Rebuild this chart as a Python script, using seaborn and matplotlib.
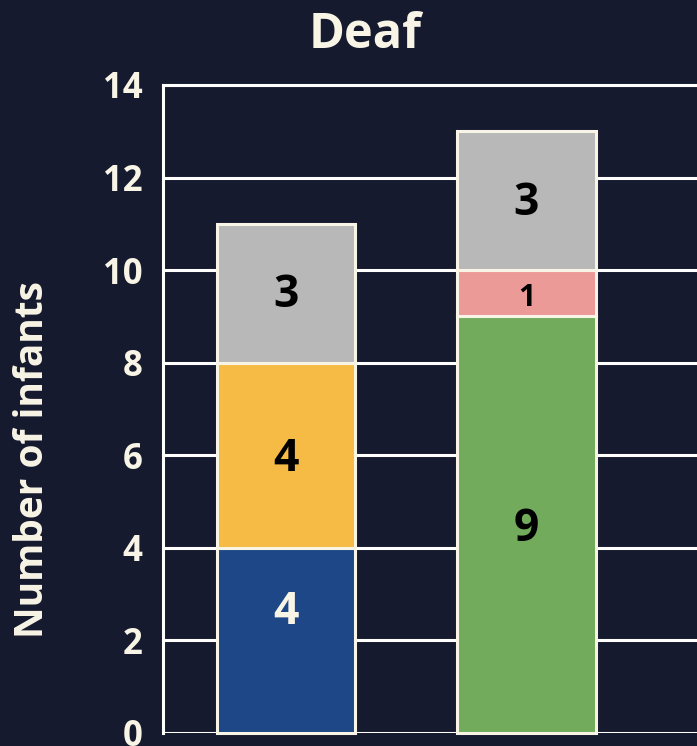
import matplotlib
matplotlib.use("Agg")
import matplotlib.pyplot as plt
import seaborn as sns
import pandas as pd

# Data
categories = ["Group 1", "Group 2"]
seg_bottom_vals = [4, 9]      # blue / green
seg_mid_vals = [4, 1]         # yellow / pink
seg_top_vals = [3, 3]         # gray
bottom_colors = ["#1e4788", "#72ab5b"]
mid_colors = ["#f6bb45", "#eb9a98"]
top_colors = ["#b8b8b8", "#b8b8b8"]
bottom_text = ["#f8f4e6", "black"]
title = "Deaf"
ylabel = "Number of infants"
yticks = [0, 2, 4, 6, 8, 10, 12, 14]

sns.set_theme(style="white")
plt.rcParams['font.family'] = ['Open Sans', 'DejaVu Sans']

BG = "#161a2e"
CREAM = "#f8f4e6"

fig = plt.figure(figsize=(6.97, 7.46), dpi=100)
fig.patch.set_facecolor(BG)
ax = fig.add_axes([163/697, 13/746, 534/697 + 0.001, 648/746])
ax.set_facecolor(BG)

df = pd.DataFrame({"cat": categories, "b": seg_bottom_vals, "m": seg_mid_vals, "t": seg_top_vals})
df["mb"] = df["b"]
df["tb"] = df["b"] + df["m"]

bw = 0.575
for i, row in df.iterrows():
    sns.barplot(x=[row["cat"]], y=[row["b"]], order=categories, color=bottom_colors[i],
                width=bw, edgecolor=CREAM, linewidth=2.2, ax=ax, saturation=1, zorder=3)
    sns.barplot(x=[row["cat"]], y=[row["m"]], bottom=[row["mb"]], order=categories, color=mid_colors[i],
                width=bw, edgecolor=CREAM, linewidth=2.2, ax=ax, saturation=1, zorder=3)
    sns.barplot(x=[row["cat"]], y=[row["t"]], bottom=[row["tb"]], order=categories, color=top_colors[i],
                width=bw, edgecolor=CREAM, linewidth=2.2, ax=ax, saturation=1, zorder=3)

for c in ax.containers:
    for p in c.patches:
        p.set_clip_on(False)

# labels
big = 32
bottom_offsets = [0.6, -0.1]
for i, row in df.iterrows():
    ax.text(i, row["b"] / 2 + bottom_offsets[i], str(row["b"]), ha="center", va="center",
            fontsize=big, fontweight="bold", color=bottom_text[i], zorder=5)
    ax.text(i, row["mb"] + row["m"] / 2 - 0.1, str(row["m"]), ha="center", va="center",
            fontsize=22 if row["m"] < 2 else big, fontweight="bold", color="black", zorder=5)
    ax.text(i, row["tb"] + row["t"] / 2 - 0.05, str(row["t"]), ha="center", va="center",
            fontsize=big, fontweight="bold", color="black", zorder=5)

ax.set_xlim(-0.5125, 1.7125)
ax.set_ylim(0, 14)
ax.set_yticks(yticks)
ax.set_yticklabels([str(v) for v in yticks], fontsize=25, fontweight="bold", color=CREAM)
ax.set_xticks([])
ax.set_xlabel("")
ax.set_ylabel("")
ax.tick_params(axis="y", length=0, pad=15)
ax.grid(axis="y", color="white", linewidth=2.2, zorder=0)
ax.set_axisbelow(True)
for s in ["right", "bottom"]:
    ax.spines[s].set_visible(False)
for s in ["left", "top"]:
    ax.spines[s].set_color("white")
    ax.spines[s].set_linewidth(2.2)

fig.text(365/697, 1 - 35/746, title, ha="center", va="center", fontsize=35,
         fontweight="bold", color=CREAM)
fig.text(33/697, 1 - 460/746, ylabel, ha="center", va="center", rotation=90,
         fontsize=28, fontweight="bold", color=CREAM)

fig.savefig("out.png", dpi=100, facecolor=BG)
